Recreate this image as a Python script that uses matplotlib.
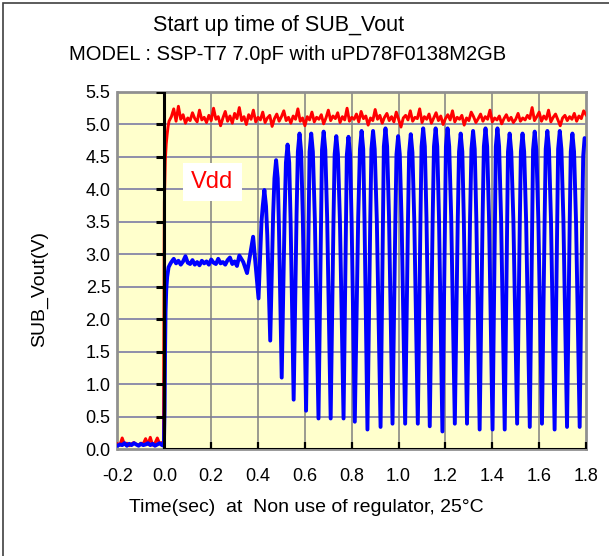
import numpy as np
import matplotlib
matplotlib.use("Agg")
import matplotlib.pyplot as plt
from matplotlib.patches import Rectangle

plt.rcParams['font.family'] = ['Liberation Sans', 'DejaVu Sans']

# ---- data ----
# before power-on (-0.2 .. -0.01 s, 0.01 s steps)
pre_t = np.round(np.arange(-0.2, -0.005, 0.01), 3)
pre_vdd = [0.08, 0.06, 0.17, 0.07, 0.09, 0.05, 0.08, 0.10, 0.07, 0.06,
           0.09, 0.08, 0.16, 0.07, 0.18, 0.06, 0.09, 0.17, 0.08, 0.10]
pre_sub = [0.05, 0.07, 0.06, 0.09, 0.05, 0.08, 0.06, 0.09, 0.07, 0.05,
           0.08, 0.06, 0.07, 0.09, 0.06, 0.08, 0.05, 0.07, 0.09, 0.06]

# power-on edge
rise_t_vdd = [-0.004, -0.002, 0.0, 0.004, 0.008, 0.012, 0.016, 0.02]
rise_vdd = [0.08, 2.0, 3.8, 4.45, 4.7, 4.85, 4.97, 5.05]
rise_t_sub = [-0.002, 0.001, 0.003, 0.005, 0.008, 0.012, 0.018, 0.025]
rise_sub = [0.05, 0.6, 1.5, 2.1, 2.45, 2.65, 2.8, 2.85]

# Vdd after power-on (0.03 .. 1.80 s, 0.01 s steps)
vdd_t = np.round(np.arange(0.03, 1.805, 0.01), 3)
vdd = [5.12, 5.24, 5.05, 5.28, 5.08, 5.15, 5.02, 5.10, 5.06, 5.18,
       5.09, 5.04, 5.22, 5.07, 5.11, 5.03, 5.14, 5.06, 5.25, 5.08,
       5.12, 4.98, 5.10, 5.20, 5.05, 5.13, 5.02, 5.17, 5.09, 5.26,
       5.06, 5.12, 5.00, 5.15, 5.08, 5.22, 5.04, 5.11, 5.07, 5.19,
       5.03, 5.10, 5.14, 4.97, 5.09, 5.16, 5.05, 5.12, 5.21, 5.06,
       5.11, 5.02, 5.13, 5.08, 5.24, 5.05, 5.10, 4.98, 5.12, 5.07,
       5.19, 5.04, 5.11, 5.08, 5.15, 5.01, 5.10, 5.22, 5.06, 5.13,
       5.09, 5.18, 5.03, 5.12, 5.07, 5.25, 5.05, 5.11, 5.08, 5.16,
       5.04, 5.20, 5.09, 5.13, 4.99, 5.10, 5.06, 5.23, 5.08, 5.14,
       5.02, 5.11, 5.17, 5.06, 5.12, 5.04, 5.19, 5.08, 4.96, 5.10,
       5.14, 5.07, 5.21, 5.05, 5.11, 5.09, 5.24, 5.03, 5.12, 5.08,
       5.16, 5.02, 5.10, 5.18, 5.06, 5.13, 5.00, 5.09, 5.15, 5.07,
       5.21, 5.04, 5.11, 5.08, 5.14, 4.99, 5.10, 5.06, 5.19, 5.12,
       5.03, 5.09, 5.16, 5.05, 5.12, 5.08, 5.22, 5.04, 5.10, 5.07,
       5.13, 5.01, 5.09, 5.15, 5.06, 5.11, 5.03, 5.08, 5.17, 5.05,
       5.10, 5.07, 5.14, 5.09, 5.26, 5.06, 5.12, 5.19, 5.05, 5.13,
       5.08, 5.22, 5.04, 5.11, 5.16, 5.07, 4.98, 5.10, 5.14, 5.06,
       5.12, 5.08, 5.17, 5.05, 5.13, 5.09, 5.21, 5.15]

# SUB_Vout plateau (0.03 .. 0.32 s)
plat_t = np.round(np.arange(0.03, 0.325, 0.01), 3)
plat_sub = [2.88, 2.93, 2.86, 2.90, 2.84, 2.89, 2.97, 2.87, 2.85, 2.91,
            2.84, 2.88, 2.83, 2.90, 2.86, 2.89, 2.84, 2.92, 2.87, 2.85,
            2.93, 2.86, 2.88, 2.84, 2.91, 2.95, 2.85, 2.89, 2.82, 2.98]

# SUB_Vout oscillation: troughs, flanks, shoulders and peaks
osc = [(0.337, 2.88), (0.353, 2.71), (0.379, 3.27), (0.402, 2.32),
       (0.4145, 3.49), (0.420, 3.74), (0.427, 3.99), (0.434, 3.74), (0.4395, 3.29), (0.452, 1.67),
       (0.4645, 3.62), (0.470, 4.17), (0.477, 4.45), (0.484, 4.17), (0.489, 3.45), (0.501, 1.10),
       (0.5135, 3.61), (0.519, 4.41), (0.526, 4.69), (0.533, 4.41), (0.539, 3.51), (0.552, 0.76),
       (0.5645, 3.63), (0.570, 4.58), (0.577, 4.86), (0.584, 4.58), (0.591, 3.58), (0.605, 0.59),
       (0.616, 3.58), (0.620, 4.58), (0.627, 4.86), (0.634, 4.58), (0.6425, 3.54), (0.658, 0.47),
       (0.669, 3.56), (0.673, 4.61), (0.680, 4.89), (0.687, 4.61), (0.695, 3.56), (0.710, 0.47),
       (0.722, 3.52), (0.727, 4.54), (0.734, 4.82), (0.741, 4.54), (0.7495, 3.52), (0.765, 0.47),
       (0.7755, 3.51), (0.779, 4.53), (0.786, 4.81), (0.793, 4.53), (0.7995, 3.49), (0.813, 0.42),
       (0.8275, 3.56), (0.835, 4.62), (0.842, 4.90), (0.849, 4.62), (0.8545, 3.52), (0.867, 0.30),
       (0.879, 3.52), (0.884, 4.62), (0.891, 4.90), (0.898, 4.62), (0.907, 3.53), (0.923, 0.34),
       (0.9335, 3.56), (0.937, 4.66), (0.944, 4.94), (0.951, 4.66), (0.959, 3.58), (0.974, 0.39),
       (0.986, 3.49), (0.991, 4.54), (0.998, 4.82), (1.005, 4.54), (1.013, 3.49), (1.028, 0.39),
       (1.040, 3.51), (1.045, 4.57), (1.052, 4.85), (1.059, 4.57), (1.067, 3.51), (1.082, 0.39),
       (1.0935, 3.58), (1.098, 4.66), (1.105, 4.94), (1.112, 4.66), (1.119, 3.56), (1.133, 0.35),
       (1.1455, 3.56), (1.151, 4.66), (1.158, 4.94), (1.165, 4.66), (1.1725, 3.54), (1.187, 0.27),
       (1.198, 3.54), (1.202, 4.66), (1.209, 4.94), (1.216, 4.66), (1.2245, 3.58), (1.240, 0.39),
       (1.2525, 3.52), (1.258, 4.58), (1.265, 4.86), (1.272, 4.58), (1.2785, 3.52), (1.292, 0.39),
       (1.305, 3.55), (1.311, 4.62), (1.318, 4.90), (1.325, 4.62), (1.332, 3.52), (1.346, 0.30),
       (1.3585, 3.55), (1.364, 4.66), (1.371, 4.94), (1.378, 4.66), (1.386, 3.55), (1.401, 0.30),
       (1.4115, 3.55), (1.415, 4.66), (1.422, 4.94), (1.429, 4.66), (1.4375, 3.55), (1.453, 0.30),
       (1.4635, 3.49), (1.467, 4.58), (1.474, 4.86), (1.481, 4.58), (1.490, 3.52), (1.506, 0.39),
       (1.5175, 3.52), (1.522, 4.58), (1.529, 4.86), (1.536, 4.58), (1.5445, 3.50), (1.560, 0.34),
       (1.5705, 3.53), (1.574, 4.61), (1.581, 4.89), (1.588, 4.61), (1.5965, 3.54), (1.612, 0.39),
       (1.6235, 3.55), (1.628, 4.62), (1.635, 4.90), (1.642, 4.62), (1.6505, 3.52), (1.666, 0.30),
       (1.677, 3.52), (1.681, 4.62), (1.688, 4.90), (1.695, 4.62), (1.7035, 3.53), (1.719, 0.34),
       (1.7305, 3.50), (1.735, 4.58), (1.742, 4.86), (1.749, 4.58), (1.7575, 3.50), (1.773, 0.34),
       (1.7835, 3.46), (1.788, 4.51), (1.794, 4.79), (1.80, 4.75)]

xticks = [-0.2, 0.0, 0.2, 0.4, 0.6, 0.8, 1.0, 1.2, 1.4, 1.6, 1.8]
yticks = [0.0, 0.5, 1.0, 1.5, 2.0, 2.5, 3.0, 3.5, 4.0, 4.5, 5.0, 5.5]

# ---- assemble traces ----
t_vdd = np.concatenate([pre_t, rise_t_vdd, vdd_t])
v_vdd = np.concatenate([pre_vdd, rise_vdd, vdd])
osc_t, osc_v = zip(*osc)
t_sub = np.concatenate([pre_t, rise_t_sub, plat_t, osc_t])
v_sub = np.concatenate([pre_sub, rise_sub, plat_sub, osc_v])

fig = plt.figure(figsize=(6.09, 5.56), dpi=100)
ax = fig.add_axes([117.5 / 609, 1 - 449 / 556, (586 - 117.5) / 609, (449 - 92) / 556])
ax.set_facecolor('#FFFFCC')

# grid
for y in yticks[1:-1]:
    ax.axhline(y, color='#7070a0', lw=1.1, zorder=1)
for x in xticks[2:-1]:
    ax.axvline(x, color='#808080', lw=1.1, zorder=1)

ax.plot(t_vdd, v_vdd, color='#ff0000', lw=2.1, zorder=3)
ax.plot(t_sub, v_sub, color='#0000ff', lw=2.8, zorder=4,
        solid_joinstyle='round', solid_capstyle='round')

# axes drawn through the origin
ax.plot([0, 0], [0, 5.5], color='black', lw=2.2, zorder=5)
ax.plot([0, 1.8], [0, 0], color='black', lw=2.2, zorder=5)
ax.plot([0] * (len(yticks) - 1), yticks[1:], ls='none', marker=0,
        ms=6, mew=2.2, color='black', zorder=5)
ax.plot(xticks[2:], [0] * (len(xticks) - 2), ls='none', marker=2,
        ms=5, mew=1.6, color='black', zorder=5)

ax.text(0.205, 4.11, 'Vdd', color='#ff0000', fontsize=17, ha='center', va='center',
        bbox=dict(facecolor='white', edgecolor='none', pad=6), zorder=6)

ax.set_xlim(-0.2, 1.8)
ax.set_ylim(0, 5.5)
ax.set_xticks(xticks)
ax.set_xticklabels([f'{v:.1f}' for v in xticks])
ax.set_yticks(yticks)
ax.set_yticklabels([f'{v:.1f}' for v in yticks])
ax.tick_params(axis='x', length=0, pad=14, labelsize=13)
ax.tick_params(axis='y', length=0, pad=5, labelsize=13)
for s in ax.spines.values():
    s.set_color('#909090')
    s.set_linewidth(2)

fig.text(279 / 609, 1 - 26 / 556, 'Start up time of SUB_Vout', ha='center', va='center', fontsize=15.5)
fig.text(288 / 609, 1 - 54 / 556, 'MODEL : SSP-T7 7.0pF with uPD78F0138M2GB',
         ha='center', va='center', fontsize=14.5)
fig.text(306 / 609, 1 - 508 / 556, 'Time(sec)  at  Non use of regulator, 25°C',
         ha='center', va='center', fontsize=14)
fig.text(40 / 609, 1 - 289 / 556, 'SUB_Vout(V)', rotation=90, ha='center', va='center', fontsize=14)

fig.patches.append(Rectangle((3 / 609, -0.05), 1.2, 1 - 3 / 556 + 0.05, fill=False,
                             edgecolor='#404040', lw=1.2, transform=fig.transFigure))

fig.savefig('out.png', dpi=100)
